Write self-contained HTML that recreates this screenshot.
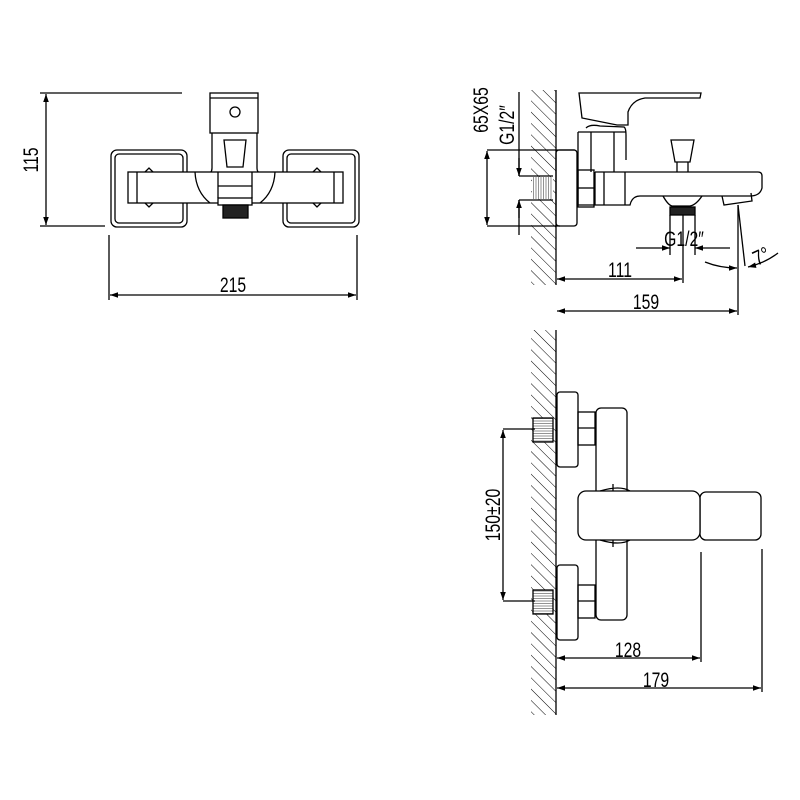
<!DOCTYPE html>
<html><head><meta charset="utf-8"><style>html,body{margin:0;padding:0;background:#fff}svg{display:block}text{font-family:"Liberation Sans",sans-serif;font-size:21px;fill:#000}</style></head>
<body>
<svg width="800" height="800" viewBox="0 0 800 800" xmlns="http://www.w3.org/2000/svg">
<defs>
<pattern id="h" patternUnits="userSpaceOnUse" width="8" height="8" patternTransform="rotate(-45)">
<line x1="0" y1="0" x2="0" y2="8" stroke="#000" stroke-width="1"/>
</pattern>
<pattern id="t" patternUnits="userSpaceOnUse" width="2.5" height="10">
<line x1="1" y1="0" x2="1" y2="10" stroke="#777" stroke-width="0.8"/>
</pattern>
<pattern id="th" patternUnits="userSpaceOnUse" width="10" height="2.5">
<line x1="0" y1="1" x2="10" y2="1" stroke="#777" stroke-width="0.8"/>
</pattern>
<marker id="a" viewBox="0 0 10 10" refX="10" refY="5" markerWidth="10" markerHeight="8" orient="auto-start-reverse" markerUnits="userSpaceOnUse"><path d="M0,1.5 L10,5 L0,8.5z" fill="#000"/></marker>
</defs>
<g fill="none" stroke="#000" stroke-width="1.3">
<!-- FRONT VIEW -->
<line x1="40" y1="93" x2="182" y2="93"/>
<line x1="40" y1="226" x2="105" y2="226"/>
<line x1="46" y1="94" x2="46" y2="225" marker-start="url(#a)" marker-end="url(#a)"/>
<line x1="109" y1="235" x2="109" y2="300"/>
<line x1="357" y1="235" x2="357" y2="300"/>
<line x1="110" y1="295" x2="356" y2="295" marker-start="url(#a)" marker-end="url(#a)"/>
<rect x="111" y="150" width="76" height="77" rx="6"/>
<rect x="115" y="154" width="68" height="69" rx="4"/>
<rect x="283" y="150" width="76" height="77" rx="6"/>
<rect x="287" y="154" width="68" height="69" rx="4"/>
<rect x="210" y="93" width="48" height="40"/>
<line x1="210" y1="98" x2="258" y2="98"/>
<circle cx="235" cy="112" r="5"/>
<path d="M212,133 V168 Q212,174 206,175 M257,133 V168 Q257,174 264,175"/>
<path d="M224,140 H246 L243,167 H227Z"/>
<rect x="128" y="172" width="215" height="31" fill="#fff"/>
<line x1="137" y1="172" x2="137" y2="203"/>
<line x1="334" y1="172" x2="334" y2="203"/>
<path d="M195,172 Q196,192 210,203 M275,172 Q274,192 260,203"/>
<line x1="218" y1="172" x2="218" y2="198"/>
<line x1="252" y1="172" x2="252" y2="198"/>
<line x1="218" y1="186" x2="252" y2="186"/>
<path d="M145,172 L149,168 L153,172 M145,203 L149,207 L153,203 M313,172 L317,168 L321,172 M313,203 L317,207 L321,203"/>
<rect x="218" y="198" width="34" height="7" fill="#fff"/>
<rect x="223" y="205" width="25" height="13" fill="#222"/>
</g>
<text transform="translate(44,160) rotate(-90) scale(0.75,1)" text-anchor="middle" y="-6">115</text>
<text transform="translate(233,292) scale(0.75,1)" text-anchor="middle">215</text>

<!-- SIDE VIEW TOP -->
<rect x="531" y="90" width="25" height="195" fill="url(#h)"/>
<g fill="none" stroke="#000" stroke-width="1.3">
<line x1="556" y1="90" x2="556" y2="285"/>
<line x1="487" y1="150" x2="575" y2="150"/>
<line x1="487" y1="226" x2="560" y2="226"/>
<line x1="487" y1="151" x2="487" y2="225" marker-start="url(#a)" marker-end="url(#a)"/>
<line x1="519" y1="92" x2="519" y2="176"/>
<line x1="519" y1="200" x2="519" y2="235"/>
<line x1="519" y1="158" x2="519" y2="176" marker-end="url(#a)"/>
<line x1="519" y1="218" x2="519" y2="200" marker-end="url(#a)"/>
<rect x="532" y="177" width="21" height="22" fill="#fff" stroke="none"/>
<rect x="532" y="177" width="21" height="22" fill="url(#t)" stroke="none"/>
<line x1="519" y1="176" x2="553" y2="176"/>
<line x1="519" y1="200" x2="553" y2="200"/>
<rect x="556" y="150" width="21" height="76" rx="3"/>
<rect x="578" y="170" width="16" height="37"/>
<line x1="578" y1="188" x2="594" y2="188"/>
<path d="M579,93 H701 L700,98 H645 Q632,100 628,112 V125 L617,125 L582,118 Z"/>
<path d="M586,128 Q590,124 600,126 L624,127 Q626,128 626,135 V160"/>
<path d="M578,132 H626 M578,132 V205 H595"/>
<line x1="591" y1="132" x2="591" y2="172"/>
<line x1="614" y1="132" x2="614" y2="172"/>
<path d="M595,172 V205 M595,172 H758 Q762,172 762,176 V188 Q760,196 750,196 H640 Q632,196 630,205 H595"/>
<line x1="604" y1="172" x2="604" y2="205"/>
<line x1="625" y1="172" x2="625" y2="205"/>
<path d="M671,140 H694 L690,162 H675Z M677,162 V172 M688,162 V172"/>
<path d="M663,196 Q668,205 672,206 H690 Q696,205 702,196"/>
<rect x="670" y="207" width="25" height="8" fill="#222"/>
<path d="M722,196 L724,205 L752,201 L751,193"/>
<line x1="738" y1="205" x2="738" y2="315"/>
<line x1="738" y1="205" x2="745" y2="266"/>
<line x1="670" y1="215" x2="670" y2="255"/>
<line x1="683" y1="215" x2="683" y2="283"/>
<line x1="695" y1="215" x2="695" y2="255"/>
<line x1="636" y1="248" x2="670" y2="248" marker-end="url(#a)"/>
<line x1="730" y1="248" x2="695" y2="248" marker-end="url(#a)"/>
<line x1="557" y1="279" x2="682" y2="279" marker-start="url(#a)" marker-end="url(#a)"/>
<line x1="557" y1="311" x2="737" y2="311" marker-start="url(#a)" marker-end="url(#a)"/>
<path d="M705,262 Q720,268 737,268" marker-end="url(#a)"/>
<path d="M778,253 Q765,263 748,267" marker-end="url(#a)"/>
</g>
<text transform="translate(488,110) rotate(-90) scale(0.75,1)" text-anchor="middle">65X65</text>
<text transform="translate(518,125) rotate(-90) scale(0.75,1)" text-anchor="middle" y="-4">G1/2″</text>
<text transform="translate(684,246) scale(0.75,1)" text-anchor="middle">G1/2″</text>
<text transform="translate(620,277) scale(0.75,1)" text-anchor="middle">111</text>
<text transform="translate(646,309) scale(0.75,1)" text-anchor="middle">159</text>
<text transform="translate(757,266) rotate(-25) scale(0.8,1)" font-size="20">7°</text>

<!-- SIDE VIEW BOTTOM -->
<rect x="531" y="330" width="25" height="385" fill="url(#h)"/>
<g fill="none" stroke="#000" stroke-width="1.3">
<line x1="556" y1="330" x2="556" y2="715"/>
<rect x="557" y="392" width="21" height="75" rx="3"/>
<rect x="557" y="565" width="21" height="75" rx="3"/>
<rect x="533" y="418" width="20" height="24" fill="#fff" stroke="none"/>
<rect x="533" y="418" width="20" height="24" fill="url(#th)"/>
<rect x="533" y="590" width="20" height="24" fill="#fff" stroke="none"/>
<rect x="533" y="590" width="20" height="24" fill="url(#th)"/>
<rect x="578" y="412" width="17" height="33"/>
<line x1="578" y1="428" x2="595" y2="428"/>
<rect x="578" y="585" width="17" height="33"/>
<line x1="578" y1="601" x2="595" y2="601"/>
<rect x="596" y="408" width="31" height="212" rx="5"/>
<rect x="700" y="492" width="61" height="48" rx="6"/>
<rect x="578" y="491" width="122" height="49" rx="8" fill="#fff"/>
<path d="M600,491 Q620,485 630,491 M600,540 Q620,546 630,540 M613,484 V491 M613,540 V547"/>
<line x1="503" y1="429" x2="535" y2="429"/>
<line x1="503" y1="601" x2="535" y2="601"/>
<line x1="503" y1="430" x2="503" y2="600" marker-start="url(#a)" marker-end="url(#a)"/>
<line x1="701" y1="552" x2="701" y2="662"/>
<line x1="762" y1="549" x2="762" y2="692"/>
<line x1="557" y1="658" x2="700" y2="658" marker-start="url(#a)" marker-end="url(#a)"/>
<line x1="557" y1="688" x2="761" y2="688" marker-start="url(#a)" marker-end="url(#a)"/>
</g>
<text transform="translate(500,515) rotate(-90) scale(0.75,1)" text-anchor="middle">150±20</text>
<text transform="translate(628,657) scale(0.75,1)" text-anchor="middle">128</text>
<text transform="translate(656,687) scale(0.75,1)" text-anchor="middle">179</text>
</svg>
</body></html>
